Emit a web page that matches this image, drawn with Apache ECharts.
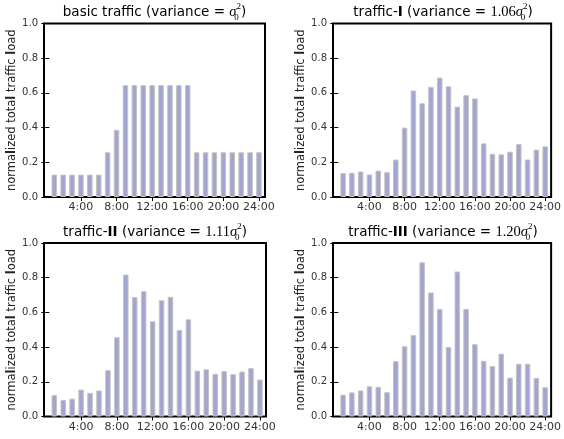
<!DOCTYPE html>
<html>
<head>
<meta charset="utf-8">
<script src="https://cdn.jsdelivr.net/npm/echarts@6/dist/echarts.min.js"></script>
<style>
html,body{margin:0;padding:0;background:#fff;}
#chart{width:564px;height:439px;}
</style>
</head>
<body>
<div id="chart"></div>
<script>
// ---- data ----
const hours = [1,2,3,4,5,6,7,8,9,10,11,12,13,14,15,16,17,18,19,20,21,22,23,24];
const tickHours = [4,8,12,16,20,24];
const basicLoad = [0.129,0.129,0.129,0.129,0.129,0.129,0.258,0.387,0.645,0.645,0.645,0.645,0.645,0.645,0.645,0.645,0.258,0.258,0.258,0.258,0.258,0.258,0.258,0.258];
const trafficI = [0.138,0.140,0.147,0.130,0.152,0.143,0.216,0.400,0.614,0.540,0.635,0.688,0.638,0.521,0.587,0.568,0.309,0.249,0.246,0.261,0.305,0.216,0.273,0.292];
const trafficII = [0.124,0.095,0.103,0.155,0.136,0.150,0.267,0.457,0.818,0.688,0.722,0.549,0.670,0.690,0.498,0.560,0.264,0.272,0.246,0.262,0.244,0.259,0.279,0.213];
const trafficIII = [0.126,0.139,0.150,0.174,0.171,0.140,0.319,0.405,0.469,0.889,0.715,0.620,0.401,0.836,0.620,0.417,0.321,0.291,0.362,0.224,0.304,0.304,0.222,0.169];
const panelTitles = [
  'basic traffic (variance = {s|σ}{sub|0}{sup|2})',
  'traffic-{b|I} (variance = {m|1.06}{s|σ}{sub|0}{sup|2})',
  'traffic-{b|II} (variance = {m|1.11}{s|σ}{sub|0}{sup|2})',
  'traffic-{b|III} (variance = {m|1.20}{s|σ}{sub|0}{sup|2})'
];
const yName = 'norma{b|l}ized tota{b|l} traffic {b|l}oad';

// ---- layout ----
const panels = [
  {data: basicLoad,  rect: {left:44,  top:23.5, width:221, height:173.5}},
  {data: trafficI,   rect: {left:333, top:23.5, width:220, height:173.5}},
  {data: trafficII,  rect: {left:44,  top:243,  width:222, height:173.5}},
  {data: trafficIII, rect: {left:333, top:243,  width:220, height:173.5}}
];
const X_MIN = -0.15, X_MAX = 24.68;

const FONT = 'DejaVu Sans';
const tickStyle = {show:true, inside:true, length:4, lineStyle:{color:'#000', width:1}};

const grid = [], xAxis = [], yAxis = [], series = [], graphic = [];
panels.forEach((p, i) => {
  grid.push(Object.assign({show:true, borderColor:'#000', borderWidth:2, backgroundColor:'transparent', containLabel:false}, p.rect));
  xAxis.push({
    type:'value', gridIndex:i, position:'bottom', min:X_MIN, max:X_MAX,
    axisLine:{show:false}, splitLine:{show:false},
    axisTick:Object.assign({customValues:tickHours}, tickStyle),
    axisLabel:{customValues:tickHours, formatter:v => v + ':00', fontFamily:FONT, fontSize:11, color:'#333', margin:5}
  });
  xAxis.push({
    type:'value', gridIndex:i, position:'top', min:X_MIN, max:X_MAX,
    axisLine:{show:false}, splitLine:{show:false},
    axisTick:Object.assign({customValues:tickHours}, tickStyle),
    axisLabel:{show:false}
  });
  yAxis.push({
    type:'value', gridIndex:i, position:'left', min:0, max:1, interval:0.2,
    axisLine:{show:false}, splitLine:{show:false}, axisTick:tickStyle,
    axisLabel:{formatter:v => v.toFixed(1), fontFamily:FONT, fontSize:10, color:'#333', margin:6},
    name:yName, nameLocation:'middle', nameGap:26,
    nameTextStyle:{fontFamily:FONT, fontSize:11.5, color:'#222', rich:{b:{fontFamily:FONT, fontSize:11.5, fontWeight:'bold', color:'#222'}}}
  });
  yAxis.push({
    type:'value', gridIndex:i, position:'right', min:0, max:1, interval:0.2,
    axisLine:{show:false}, splitLine:{show:false}, axisTick:tickStyle, axisLabel:{show:false}
  });
  series.push({
    type:'bar', xAxisIndex:2*i, yAxisIndex:2*i, barWidth:5.5,
    data: hours.map((h, k) => [h, p.data[k]]),
    itemStyle:{color:'#a1a5cf', borderColor:'#c4c4c4', borderWidth:1},
    silent:true, animation:false
  });
  graphic.push({
    type:'text',
    x: p.rect.left + p.rect.width / 2,
    y: p.rect.top - 11,
    style:{
      text: panelTitles[i], align:'center', verticalAlign:'middle',
      fontFamily:FONT, fontSize:13.5, fill:'#000', lineHeight:20,
      rich:{
        b:{fontFamily:FONT, fontSize:13.5, fontWeight:'bold', fill:'#000', lineHeight:20},
        m:{fontFamily:'Liberation Serif', fontSize:14.5, fill:'#000', lineHeight:20},
        s:{fontFamily:'Liberation Serif', fontStyle:'italic', fontSize:14.5, fill:'#000', lineHeight:20},
        sub:{fontFamily:'Liberation Serif', fontSize:9, fill:'#000', lineHeight:9, verticalAlign:'bottom', width:0.01, align:'left'},
        sup:{fontFamily:'Liberation Serif', fontSize:9, fill:'#000', lineHeight:9, verticalAlign:'top'}
      }
    }
  });
});

const chart = echarts.init(document.getElementById('chart'), null, {renderer:'canvas'});
chart.setOption({animation:false, grid, xAxis, yAxis, series, graphic});
</script>
</body>
</html>
